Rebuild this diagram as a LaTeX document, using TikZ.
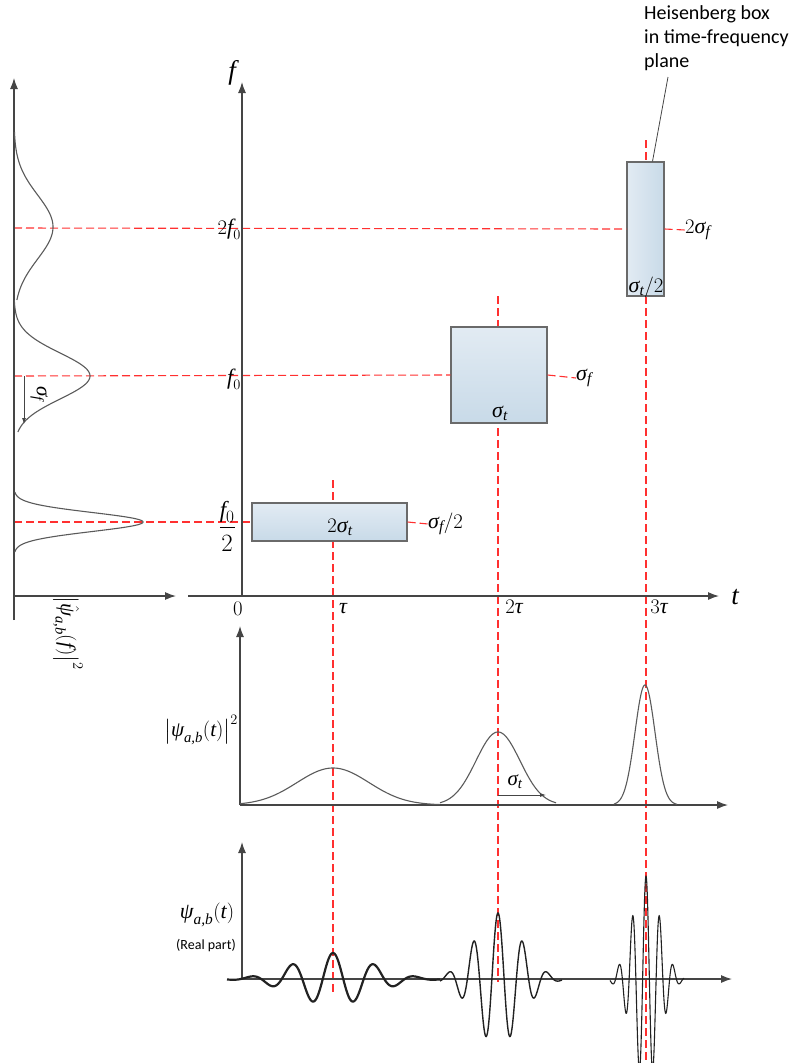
\documentclass[tikz,border=0pt]{standalone}
\usepackage{amsmath}
\usepackage{fontspec}
\setmainfont{Liberation Serif}
\newfontfamily\calibrifont{Carlito}
\newcommand\tx[1]{\text{\itshape #1}}
\usetikzlibrary{arrows.meta}
\definecolor{axisgray}{HTML}{454545}
\definecolor{curvegray}{HTML}{5A5A5A}
\definecolor{wavedark}{HTML}{222222}
\definecolor{redline}{HTML}{FF3030}
\definecolor{boxedge}{HTML}{6A6A6A}
\definecolor{boxlight}{HTML}{E2EBF3}
\definecolor{boxdark}{HTML}{C8DAE8}
\begin{document}
\begin{tikzpicture}[x=1pt,y=-1pt,
  axis/.style={draw=axisgray, line width=1.2pt, -{Latex[length=11pt,width=8pt]}},
  smallarrow/.style={draw=axisgray, line width=0.8pt, -{Latex[length=6pt,width=4pt]}},
  reddash/.style={draw=redline, line width=1.1pt, dash pattern=on 8pt off 4pt},
  curve/.style={draw=curvegray, line width=1.1pt},
  hbox/.style={draw=boxedge, line width=1.2pt, inner sep=0pt, rectangle},
  vshade/.style={top color=boxlight, bottom color=boxdark},
  hshade/.style={left color=boxlight, right color=boxdark},
  mlab/.style={font=\fontsize{22}{26}\selectfont, inner sep=0pt},
  biglab/.style={font=\fontsize{27}{31}\selectfont, inner sep=0pt},
  sanslab/.style={font=\calibrifont\fontsize{20}{24}\selectfont, inner sep=0pt, align=left},
]
\useasboundingbox (0,0) rectangle (802,1063);

% ---------- coordinates ----------
\coordinate (sO) at (14,596);
\coordinate (sBot) at (14,620);
\coordinate (sTop) at (14,78);
\coordinate (sRight) at (176,596);
\coordinate (fO) at (242,596);
\coordinate (fTop) at (242,82);
\coordinate (tStart) at (188,596);
\coordinate (tEnd) at (719,596);
\coordinate (L2) at (14,228);
\coordinate (L1) at (14,376);
\coordinate (Lh) at (14,522);

% ---------- red dashed guide lines ----------
\coordinate (v1a) at (333,480);  \coordinate (v1b) at (333,993);
\coordinate (v2a) at (498,296);  \coordinate (v2b) at (498,982);
\coordinate (v3a) at (646,140);  \coordinate (v3b) at (646,1060);
\draw[reddash] (v1a) -- (v1b);
\draw[reddash] (v2a) -- (v2b);
\draw[reddash] (v3a) -- (v3b);

% ---------- boxes ----------
\node[hbox, vshade, minimum width=155pt, minimum height=38pt] (box1) at (329.5,522) {};
\node[hbox, vshade, minimum width=96pt, minimum height=96pt] (box2) at (499,375) {};
\node[hbox, hshade, minimum width=37pt, minimum height=134pt] (box3) at (645.5,229) {};

% labels right of boxes
\node[mlab, anchor=west] (lab3) at (685,230) {$2\tx{σ}_{\tx{f}}$};
\node[mlab, anchor=west] (lab2) at (576,378) {$\tx{σ}_{\tx{f}}$};
\node[mlab, anchor=west] (lab1) at (428,524) {$\tx{σ}_{\tx{f}}/2$};

\draw[reddash] (L2) -- (box3.west);
\draw[reddash] (box3.east) -- (lab3.west);
\draw[reddash] (L1) -- (box2.west);
\draw[reddash] (box2.east) -- (lab2.west);
\draw[reddash] (Lh) -- (box1.west);
\draw[reddash] (box1.east) -- (lab1.west);

% labels inside boxes
\node[mlab] (in1) at (340,527) {$2\tx{σ}_{\tx{t}}$};
\node[mlab] (in2) at (500,413) {$\tx{σ}_{\tx{t}}$};
\node[mlab] (in3) at (646,287) {$\tx{σ}_{\tx{t}}/2$};

% ---------- main axes ----------
\draw[axis] (fO) -- (fTop);
\draw[axis] (tStart) -- (tEnd);
\node[biglab] (flab) at (232,73) {$\tx{f}$};
\node[biglab] (tlab) at (735,597) {$\tx{t}$};
\node[mlab, anchor=east] (l2f) at (241,229) {$2\tx{f}_0$};
\node[mlab, anchor=east] (l1f) at (241,379) {$\tx{f}_0$};
\node[mlab, anchor=east, font=\fontsize{23}{27}\selectfont] (lhf) at (236,526) {$\displaystyle\frac{\tx{f}_0}{2}$};
\node[mlab] (t0) at (238,609) {$0$};
\node[mlab] (t1) at (343,609) {$\tx{τ}$};
\node[mlab] (t2) at (514,607) {$2\tx{τ}$};
\node[mlab] (t3) at (659,607) {$3\tx{τ}$};

% ---------- Heisenberg annotation ----------
\node[sanslab, anchor=north west] (heis) at (644,5) {Heisenberg box\\in time-frequency\\plane};
\coordinate (lead) at (668,77);
\draw[draw=axisgray, line width=0.8pt] ([xshift=7pt]box3.north) -- (lead);

% ---------- spectrum (left) ----------
\draw[axis] (sBot) -- (sTop);
\draw[axis] (sO) -- (sRight);
\draw[curve] plot[domain=132:300, samples=120, variable=\t] ({14+39*exp(-((\t-227)/32)^2/2)},{\t});
\draw[curve] plot[domain=300:432, samples=120, variable=\t] ({14+76*exp(-((\t-376)/23)^2/2)},{\t});
\draw[curve] plot[domain=492:552, samples=120, variable=\t] ({14+129*exp(-((\t-522)/9.5)^2/2)},{\t});
\coordinate (sfa) at (24,376);
\coordinate (sfb) at (24,424);
\draw[smallarrow] (sfa) -- (sfb);
\node[mlab, rotate=-90, font=\fontsize{21}{25}\selectfont] (sflab) at (39,394) {$\tx{σ}_{\tx{f}}$};
\node[mlab, rotate=-90, font=\fontsize{21}{25}\selectfont] (speclab) at (68,633) {$\left|\hat{\tx{ψ}}_{\tx{a,b}}(\tx{f})\right|^2$};

% ---------- |psi(t)|^2 plot ----------
\coordinate (pO) at (240,805);
\coordinate (pTop) at (240,626);
\coordinate (pEnd) at (728,805);
\draw[axis] (pO) -- (pTop);
\draw[axis] (pO) -- (pEnd);
\draw[curve] plot[domain=240:440, samples=150] ({\x},{805-37*exp(-((\x-333)/36)^2/2)});
\draw[curve] plot[domain=440:556, samples=150] ({\x},{805-73*exp(-((\x-498)/22)^2/2)});
\draw[curve] plot[domain=614:677, samples=150] ({\x},{805-120*exp(-((\x-645)/10)^2/2)});
\coordinate (sta) at (498,795);
\coordinate (stb) at (546,795);
\draw[smallarrow] (sta) -- (stb);
\node[mlab, font=\fontsize{21}{25}\selectfont] (stlab) at (515,782) {$\tx{σ}_{\tx{t}}$};
\node[mlab, font=\fontsize{21}{25}\selectfont] (p2lab) at (201,730) {$\left|\tx{ψ}_{\tx{a,b}}(\tx{t})\right|^2$};

% ---------- real part plot ----------
\coordinate (wO) at (242,979);
\coordinate (wTop) at (242,842);
\coordinate (wEnd) at (732,979);
\draw[axis] (wO) -- (wTop);
\draw[axis] (wO) -- (wEnd);
\draw[draw=wavedark, line width=2.2pt] plot[domain=227:440, samples=300] ({\x},{979-26*exp(-((\x-333)/38)^2/2)*cos(8.7805*(\x-333))});
\draw[draw=wavedark, line width=1.4pt] plot[domain=440:562, samples=300] ({\x},{979-66*exp(-((\x-498)/23)^2/2)*cos(14.694*(\x-498))});
\draw[draw=wavedark, line width=1.1pt] plot[domain=610:684, samples=300] ({\x},{979-103*exp(-((\x-646)/13.5)^2/2)*cos(26.667*(\x-646))});
\node[mlab] (wlab) at (207,915) {$\tx{ψ}_{\tx{a,b}}(\tx{t})$};
\node[inner sep=0pt, font=\calibrifont\fontsize{14}{17}\selectfont] (rplab) at (206,945) {(Real part)};
\end{tikzpicture}
\end{document}
